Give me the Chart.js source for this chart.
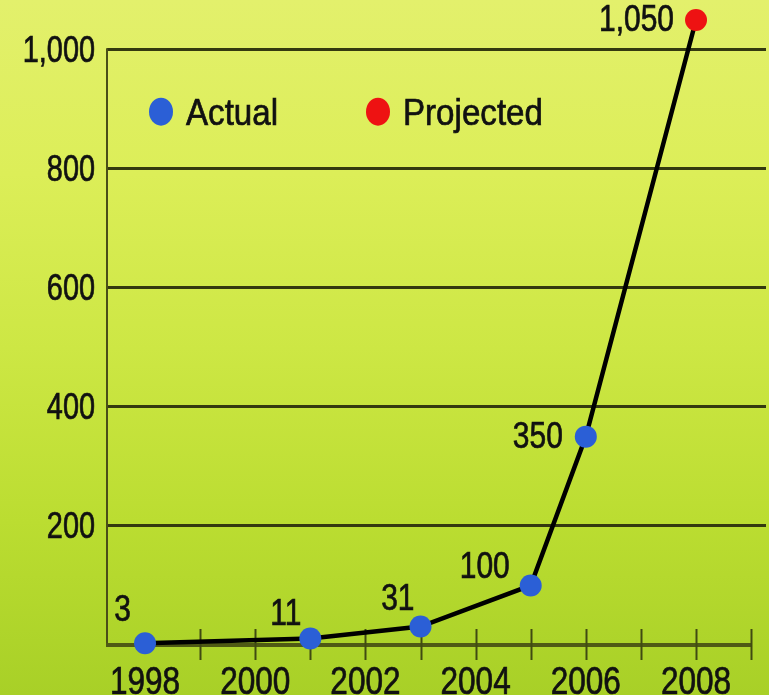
<!DOCTYPE html>
<html>
<head>
<meta charset="utf-8">
<script src="https://cdn.jsdelivr.net/npm/chart.js@4/dist/chart.umd.min.js"></script>
<style>
  html, body { margin: 0; padding: 0; overflow: hidden; }
  body {
    width: 769px; height: 695px;
    background: linear-gradient(to bottom, #e3f06c 0%, #dcee58 25%, #cde744 50%, #bbdd31 75%, #a8d027 100%);
  }
  #wrap { position: relative; width: 769px; height: 695px; }
</style>
</head>
<body>
<div id="wrap"><canvas id="chart"></canvas></div>
<script>
// Years on the x axis and the user counts (millions) at each point
const years = [1998, 2001, 2003, 2005, 2006, 2008];
const users = [3, 11, 31, 100, 350, 1050];
const status = ['Actual', 'Actual', 'Actual', 'Actual', 'Actual', 'Projected'];
const valueLabels = ['3', '11', '31', '100', '350', '1,050'];
const xTickLabels = [1998, 2000, 2002, 2004, 2006, 2008];
const yTickValues = [0, 200, 400, 600, 800, 1000];
const legendLabels = ['Actual', 'Projected'];

const FONT = '"Liberation Sans", Arial, Helvetica, sans-serif';
const INK = '#111111';
const statusColor = { Actual: '#2b5fd6', Projected: '#ee1212' };

// Condensed lettering: regular face squeezed horizontally
function drawText(ctx, text, x, y, size, squeeze, align, baseline) {
  ctx.save();
  ctx.translate(x, y);
  ctx.scale(squeeze, 1);
  ctx.font = size + 'px ' + FONT;
  ctx.textAlign = align;
  ctx.textBaseline = baseline || 'middle';
  ctx.fillStyle = INK;
  ctx.strokeStyle = INK;
  ctx.lineWidth = 0.7;
  ctx.fillText(text, 0, 0);
  ctx.strokeText(text, 0, 0);
  ctx.restore();
}

// Axis lines (left one stops at the top gridline), bottom tick marks and tick labels
const axisPlugin = {
  id: 'axisLines',
  beforeDatasetsDraw(chart) {
    const { ctx, chartArea, scales: { x, y } } = chart;
    const yb = chartArea.bottom;
    ctx.save();
    ctx.strokeStyle = '#4a4e18';
    ctx.lineWidth = 2;
    ctx.beginPath();
    ctx.moveTo(chartArea.left, y.getPixelForValue(1000) - 1.5);
    ctx.lineTo(chartArea.left, yb);
    ctx.stroke();

    ctx.strokeStyle = '#4f5a14';
    ctx.lineWidth = 4;
    ctx.beginPath();
    ctx.moveTo(chartArea.left - 1, yb);
    ctx.lineTo(x.getPixelForValue(2009), yb);
    ctx.stroke();
    ctx.lineWidth = 2;
    ctx.strokeStyle = '#404a12';
    for (let yr = 1999; yr <= 2009; yr++) {
      const px = Math.round(x.getPixelForValue(yr)) + 0.5;
      ctx.beginPath();
      ctx.moveTo(px, yb - 16);
      ctx.lineTo(px, yb + 15);
      ctx.stroke();
    }
    ctx.restore();

    yTickValues.forEach(v => {
      if (v === 0) return;
      drawText(ctx, v.toLocaleString('en-US'), chartArea.left - 12, y.getPixelForValue(v) + 2, 37, 0.78, 'right');
    });
    xTickLabels.forEach(v => {
      drawText(ctx, String(v), x.getPixelForValue(v), yb + 20, 38, 0.83, 'center', 'top');
    });
  }
};

// Value labels beside each point
const valueLabelPlugin = {
  id: 'valueLabels',
  afterDatasetsDraw(chart) {
    const { ctx } = chart;
    const meta = chart.getDatasetMeta(0);
    const offsets = [[-14, -33], [-9, -25], [-6, -28], [-21, -19], [-23, 0], [-22, 0]];
    meta.data.forEach((pt, i) => {
      drawText(ctx, valueLabels[i], pt.x + offsets[i][0], pt.y + offsets[i][1] + 1, 37, 0.81, 'right');
    });
  }
};

// Legend drawn inside the plot area
const innerLegendPlugin = {
  id: 'innerLegend',
  afterDraw(chart) {
    const { ctx, chartArea, scales: { y } } = chart;
    const cy = y.getPixelForValue(1000) + 62;
    const spots = [chartArea.left + 54, chartArea.left + 271];
    legendLabels.forEach((lab, i) => {
      ctx.save();
      ctx.fillStyle = statusColor[lab];
      ctx.beginPath();
      ctx.ellipse(spots[i], cy, 12, 14, 0, 0, Math.PI * 2);
      ctx.fill();
      ctx.restore();
      drawText(ctx, lab, spots[i] + 25, cy + 3, 36, 0.92, 'left');
    });
  }
};

new Chart(document.getElementById('chart'), {
  type: 'line',
  data: {
    datasets: [{
      label: 'Users',
      data: years.map((yr, i) => ({ x: yr, y: users[i] })),
      borderColor: '#000000',
      borderWidth: 4.5,
      tension: 0,
      clip: false,
      pointRadius: 11,
      pointHoverRadius: 11,
      pointBorderWidth: 0,
      pointBackgroundColor: status.map(s => statusColor[s]),
      pointBorderColor: status.map(s => statusColor[s])
    }]
  },
  options: {
    responsive: true,
    maintainAspectRatio: false,
    animation: false,
    events: [],
    layout: { autoPadding: false, padding: { top: 14, left: 20, right: 3, bottom: 0 } },
    plugins: { legend: { display: false }, tooltip: { enabled: false } },
    scales: {
      x: {
        type: 'linear',
        min: 1997.31,
        max: 2009.27,
        afterBuildTicks: (scale) => { scale.ticks = xTickLabels.map(v => ({ value: v })); },
        afterFit: (scale) => { scale.height = 50; scale.paddingLeft = 0; scale.paddingRight = 0; },
        grid: { display: false, drawTicks: false },
        border: { display: false },
        ticks: { display: false }
      },
      y: {
        min: 0,
        max: 1060,
        afterBuildTicks: (scale) => { scale.ticks = yTickValues.map(v => ({ value: v })); },
        afterFit: (scale) => { scale.width = 87; scale.paddingTop = 0; scale.paddingBottom = 0; },
        grid: {
          drawTicks: false,
          lineWidth: 3,
          color: (c) => (c.tick && c.tick.value === 0) ? 'rgba(0,0,0,0)' : '#34390f'
        },
        border: { display: false },
        ticks: { display: false }
      }
    }
  },
  plugins: [axisPlugin, valueLabelPlugin, innerLegendPlugin]
});
</script>
</body>
</html>
